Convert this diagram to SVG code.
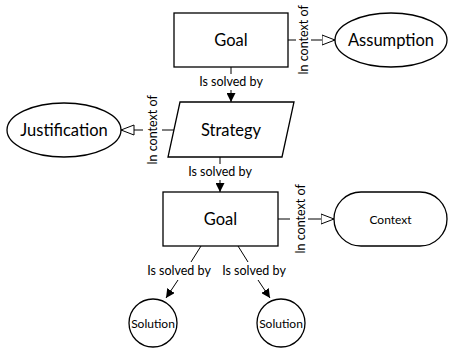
<svg xmlns="http://www.w3.org/2000/svg" width="449" height="352" viewBox="0 0 449 352">
  <style>
    .shape { fill: #fff; stroke: #000; stroke-width: 1.3; }
    .link { fill: none; stroke: #000; stroke-width: 1; }
    .big { font-family: Lato, "Liberation Sans", sans-serif; font-size: 16.5px; fill: #000; text-anchor: middle; dominant-baseline: central; }
    .small { font-family: Lato, "Liberation Sans", sans-serif; font-size: 12px; fill: #000; text-anchor: middle; dominant-baseline: central; }
    .lbl { font-family: Lato, "Liberation Sans", sans-serif; font-size: 12.5px; fill: #000; text-anchor: middle; }
    .vlbl { font-family: Lato, "Liberation Sans", sans-serif; font-size: 12.5px; fill: #000; text-anchor: middle; dominant-baseline: central; }
  </style>
  <defs>
    <marker id="solved" viewBox="0 0 10 10" refX="10" refY="5" markerWidth="9" markerHeight="9" markerUnits="userSpaceOnUse" orient="auto">
      <path d="M0,0 L10,5 L0,10 Z" fill="#000"/>
    </marker>
    <marker id="context" viewBox="0 0 14 12" refX="13.5" refY="6" markerWidth="14" markerHeight="12" markerUnits="userSpaceOnUse" orient="auto">
      <path d="M0.5,1 L13.5,6 L0.5,11 Z" fill="#fff" stroke="#000" stroke-width="1"/>
    </marker>
  </defs>

  <g id="connectors">
    <!-- Goal -> Strategy -->
    <line class="link" x1="231" y1="67" x2="231" y2="74"/>
    <text class="lbl" x="231" y="86">Is solved by</text>
    <line class="link" x1="231" y1="90" x2="231" y2="102" marker-end="url(#solved)"/>
    <!-- Goal -> Assumption -->
    <line class="link" x1="288" y1="40" x2="296" y2="40"/>
    <text class="vlbl" transform="translate(303,40) rotate(-90)">In context of</text>
    <line class="link" x1="311" y1="40" x2="335" y2="40" marker-end="url(#context)"/>
    <!-- Strategy -> Justification -->
    <line class="link" x1="174" y1="130" x2="162" y2="130"/>
    <text class="vlbl" transform="translate(152,130) rotate(-90)">In context of</text>
    <line class="link" x1="143" y1="130" x2="121" y2="130" marker-end="url(#context)"/>
    <!-- Strategy -> Goal -->
    <line class="link" x1="220" y1="157" x2="220" y2="164"/>
    <text class="lbl" x="220" y="176">Is solved by</text>
    <line class="link" x1="220" y1="180" x2="220" y2="192" marker-end="url(#solved)"/>
    <!-- Goal -> Context -->
    <line class="link" x1="278" y1="219" x2="290" y2="219"/>
    <text class="vlbl" transform="translate(300,219) rotate(-90)">In context of</text>
    <line class="link" x1="308" y1="219" x2="334" y2="219" marker-end="url(#context)"/>
    <!-- Goal -> Solution (left) -->
    <line class="link" x1="201" y1="246" x2="191" y2="262"/>
    <text class="lbl" x="179" y="275">Is solved by</text>
    <line class="link" x1="178" y1="280" x2="166" y2="298" marker-end="url(#solved)"/>
    <!-- Goal -> Solution (right) -->
    <line class="link" x1="238" y1="246" x2="248" y2="262"/>
    <text class="lbl" x="254" y="275">Is solved by</text>
    <line class="link" x1="258" y1="280" x2="270" y2="298" marker-end="url(#solved)"/>
  </g>

  <g id="goal-top">
    <rect class="shape" x="174" y="13" width="114" height="54"/>
    <text class="big" x="231" y="40">Goal</text>
  </g>
  <g id="assumption">
    <ellipse class="shape" cx="391" cy="40" rx="56" ry="27"/>
    <text class="big" x="391" y="40">Assumption</text>
  </g>
  <g id="strategy">
    <polygon class="shape" points="180,102 294,102 282,157 168,157"/>
    <text class="big" x="231" y="130">Strategy</text>
  </g>
  <g id="justification">
    <ellipse class="shape" cx="64" cy="130" rx="57" ry="27"/>
    <text class="big" x="64" y="130">Justification</text>
  </g>
  <g id="goal-bottom">
    <rect class="shape" x="163" y="192" width="115" height="54"/>
    <text class="big" x="220.5" y="219">Goal</text>
  </g>
  <g id="context-node">
    <rect class="shape" x="334" y="192" width="113" height="54" rx="27" ry="27"/>
    <text class="small" x="390.5" y="219">Context</text>
  </g>
  <g id="solution-left">
    <circle class="shape" cx="153" cy="323" r="24"/>
    <text class="small" x="153" y="323" font-size="11.5">Solution</text>
  </g>
  <g id="solution-right">
    <circle class="shape" cx="281" cy="323" r="24"/>
    <text class="small" x="281" y="323" font-size="11.5">Solution</text>
  </g>
</svg>
